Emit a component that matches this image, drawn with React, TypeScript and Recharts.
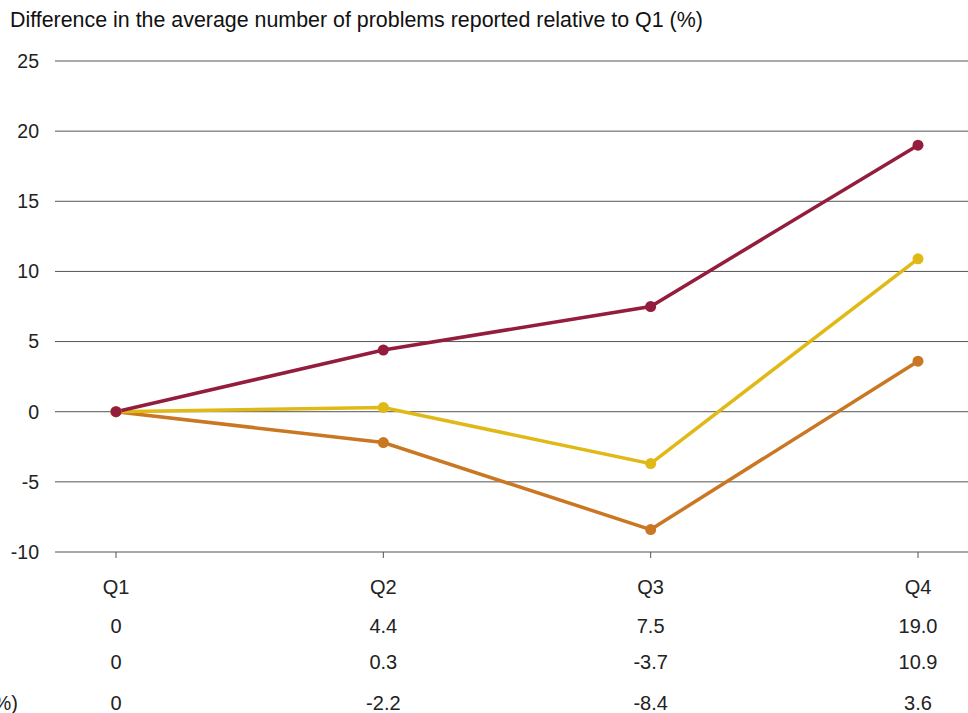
import React from 'react';
import { LineChart, Line, XAxis, YAxis, CartesianGrid } from 'recharts';

const quarters = ['Q1', 'Q2', 'Q3', 'Q4'];
const seriesRed = [0, 4.4, 7.5, 19.0];
const seriesYellow = [0, 0.3, -3.7, 10.9];
const seriesOrange = [0, -2.2, -8.4, 3.6];
const yTicks = [-10, -5, 0, 5, 10, 15, 20, 25];

const RED = '#941d3d';
const YELLOW = '#e1b917';
const ORANGE = '#c97722';
const GRID = '#555';
const TEXT = '#222';
const FONT = '"Liberation Sans", Arial, Helvetica, sans-serif';

const data = quarters.map((q, i) => ({
  quarter: q,
  red: seriesRed[i],
  yellow: seriesYellow[i],
  orange: seriesOrange[i],
}));

const fmt = (v: number) => (v === 0 ? '0' : v.toFixed(1));

// quarter label plus the three value rows underneath it
function QuarterTick(props: any) {
  const { x, y, payload } = props;
  const i = payload.index;
  const rows = [seriesRed[i], seriesYellow[i], seriesOrange[i]];
  return (
    <g fontFamily={FONT} fontSize={20}>
      <text x={x} y={y + 34} textAnchor="middle" fill={TEXT}>
        {payload.value}
      </text>
      {rows.map((v, r) => (
        <text key={r} x={x} y={y + [73, 109, 150][r]} textAnchor="middle" fill={TEXT}>
          {fmt(v)}
        </text>
      ))}
    </g>
  );
}

export default function App() {
  return (
    <div
      style={{
        position: 'absolute',
        left: 0,
        top: 0,
        width: 968,
        height: 713,
        overflow: 'hidden',
        background: '#fff',
        fontFamily: FONT,
      }}
    >
      <div
        style={{
          position: 'absolute',
          left: 10,
          top: 8,
          fontSize: 21.4,
          lineHeight: '24px',
          color: '#111',
          whiteSpace: 'nowrap',
        }}
      >
        Difference in the average number of problems reported relative to Q1 (%)
      </div>
      <div
        style={{
          position: 'absolute',
          right: 968 - 18,
          top: 691,
          fontSize: 20,
          lineHeight: '24px',
          color: TEXT,
          whiteSpace: 'nowrap',
        }}
      >
        %)
      </div>
      <LineChart
        width={968}
        height={713}
        data={data}
        margin={{ top: 61, right: 0, bottom: 0, left: 0 }}
      >
        <CartesianGrid vertical={false} stroke={GRID} strokeWidth={1} />
        <XAxis
          dataKey="quarter"
          padding={{ left: 61, right: 50 }}
          axisLine={false}
          tickLine={{ stroke: GRID }}
          tickSize={6}
          tick={<QuarterTick />}
          interval={0}
          height={161}
        />
        <YAxis
          domain={[-10, 25]}
          ticks={yTicks}
          width={55}
          axisLine={false}
          tickLine={false}
          tickSize={0}
          tickMargin={16}
          tick={{ fontSize: 19.5, fill: TEXT, fontFamily: FONT }}
        />
        <Line
          dataKey="orange"
          stroke={ORANGE}
          strokeWidth={3.5}
          dot={{ r: 5.5, fill: ORANGE, stroke: 'none' }}
          activeDot={false}
          isAnimationActive={false}
        />
        <Line
          dataKey="yellow"
          stroke={YELLOW}
          strokeWidth={3.5}
          dot={{ r: 5.5, fill: YELLOW, stroke: 'none' }}
          activeDot={false}
          isAnimationActive={false}
        />
        <Line
          dataKey="red"
          stroke={RED}
          strokeWidth={3.5}
          dot={{ r: 5.5, fill: RED, stroke: 'none' }}
          activeDot={false}
          isAnimationActive={false}
        />
      </LineChart>
    </div>
  );
}
